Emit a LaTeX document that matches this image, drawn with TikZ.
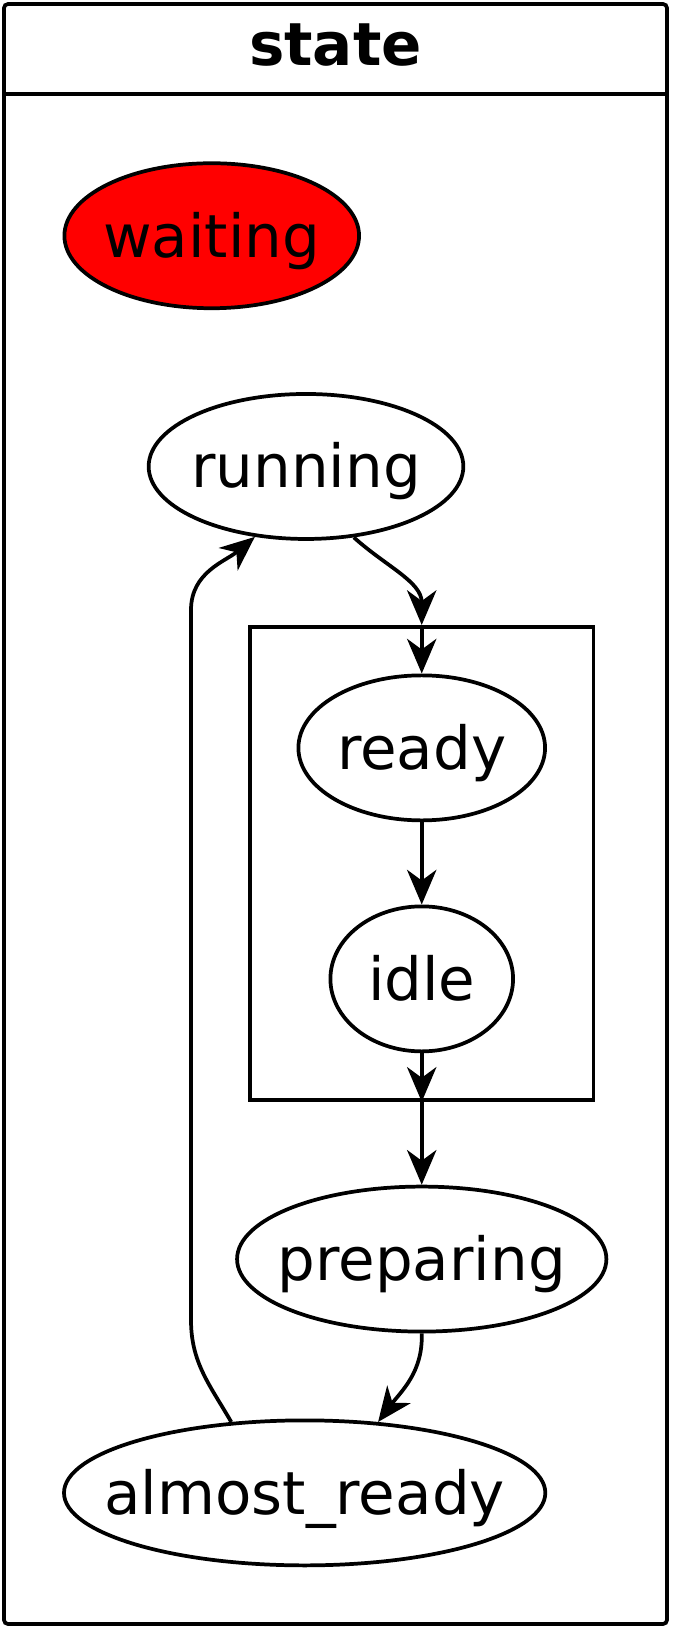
\documentclass[tikz,border=0pt]{standalone}
\usepackage{fontspec}
\setmainfont{DejaVu Sans}
\usepackage{tikz}
\usetikzlibrary{positioning}
\usetikzlibrary{arrows.meta}
\usetikzlibrary{shapes}
\usetikzlibrary{fit}
\newcommand{\stname}[1]{\makebox[0pt]{#1}}
\tikzset{
st/.style={
  ellipse,
  inner sep=0pt,
  minimum height=108.75pt,
  text height=35pt,
  text depth=3pt,
  draw=black,
  fill=white,
  font=\fontsize{44.6pt}{50pt}\selectfont
  }
}
\begin{document}
\begin{tikzpicture}[>={Stealth[length=26pt,width=22pt,inset=8pt]},line width=2.8pt]
\useasboundingbox (0,0) rectangle (504pt,-1221pt);
\draw[rounded corners=3pt] (3pt,-3pt) rectangle (500.25pt,-1218pt);
\draw (3pt,-70.5pt) -- (500.25pt,-70.5pt);
\node[font=\bfseries\fontsize{44.6pt}{50pt}\selectfont,anchor=base] (title) at (251.6pt,-48.75pt) {state};
\node[st,fill=red,minimum width=221pt] (waiting) at (158.8pt,-176.8pt) {\stname{waiting}};
\node[st,minimum width=236pt] (running) [below=61.5pt of waiting,xshift=70.7pt] {\stname{running}};
\node[st,minimum width=185pt] (ready) [below=99.5pt of running,xshift=86.8pt] {\stname{ready}};
\node[st,minimum width=137pt] (idle) [below=61.7pt of ready] {\stname{idle}};
\node[st,minimum width=277pt] (preparing) [below=98.6pt of idle] {\stname{preparing}};
\node[st,minimum width=361pt] (almost) [below=63.8pt of preparing,xshift=-87.8pt] {\stname{almost\_ready}};
\node[draw,fit=(ready)(idle),inner sep=35pt] (cl) {};
\coordinate (ctop) at (ready.north |- cl.north);
\coordinate (cbot) at (idle.south |- cl.south);
\coordinate (loopb) at (143.25pt,-990pt);
\coordinate (loopt) at (143.25pt,-457.5pt);
\path[->]
(running.304) edge [out=-42,in=90] node {} (ctop)
(ctop) edge [] node {} (ready)
(ready) edge [] node {} (idle)
(idle) edge [] node {} (cbot)
(cbot) edge [] node {} (preparing)
(preparing.south) edge [out=-88,in=53] node {} (almost.44)
;
\draw[->] (almost.136) to[out=120,in=-90] (loopb) -- (loopt) to[out=90,in=220] (running.234);
\end{tikzpicture}
\end{document}
